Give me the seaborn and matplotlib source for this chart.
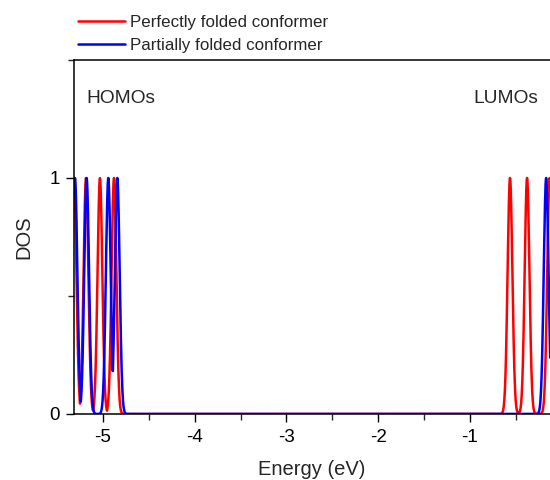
import numpy as np
import pandas as pd
import matplotlib
matplotlib.use("Agg")
import matplotlib.pyplot as plt
from matplotlib.ticker import MultipleLocator
import seaborn as sns

# peak centres (eV), each broadened to a unit-height gaussian
perfect_peaks = [-5.315, -5.185, -5.033, -4.88, -0.564, -0.378, -0.132]
partial_peaks = [-5.305, -5.178, -4.942, -4.844, -0.17]
sigma = 0.026
labels = ["Perfectly folded conformer", "Partially folded conformer"]
colors = ["#ff0000", "#0000ff"]


def broaden(energy, peaks):
    dos = np.zeros_like(energy)
    for p in peaks:
        dos = np.maximum(dos, np.exp(-((energy - p) ** 2) / (2 * sigma ** 2)))
    return dos


energy = np.arange(-5.33, -0.11, 0.002)
frames = []
for lab, peaks in zip(labels, [perfect_peaks, partial_peaks]):
    frames.append(pd.DataFrame({"energy": energy, "dos": broaden(energy, peaks), "conf": lab}))
df = pd.concat(frames, ignore_index=True)

sns.set_style("ticks")
plt.rcParams["font.family"] = ["Liberation Sans", "DejaVu Sans"]

fig = plt.figure(figsize=(5.5, 4.8), dpi=100)
ax = fig.add_axes([0.1345, 0.1375, 0.8655, 0.7375])

sns.lineplot(data=df, x="energy", y="dos", hue="conf", hue_order=labels,
             palette=dict(zip(labels, colors)), linewidth=1.8, sort=False,
             estimator=None, ax=ax)

ax.set_xlim(-5.316, -0.128)
ax.set_ylim(0, 1.5)
ax.set_xticks([-5, -4, -3, -2, -1])
ax.set_xticklabels(["-5", "-4", "-3", "-2", "-1"])
ax.xaxis.set_minor_locator(MultipleLocator(0.5))
ax.set_yticks([0, 1])
ax.yaxis.set_minor_locator(MultipleLocator(0.5))
ax.tick_params(which="major", length=6, width=1, labelsize=13.5, colors="black", pad=5)
ax.tick_params(axis="y", which="major", pad=4)
ax.tick_params(which="minor", length=4, width=1)
for s in ax.spines.values():
    s.set_linewidth(1.1)
    s.set_color("black")
ax.spines["right"].set_visible(False)

ax.set_xlabel("Energy (eV)", fontsize=14.5, labelpad=10)
ax.set_ylabel("DOS", fontsize=14.5, labelpad=12)

ax.text(0.027, 0.915, "HOMOs", transform=ax.transAxes, fontsize=13.8, va="top")
ax.text(0.975, 0.915, "LUMOs", transform=ax.transAxes, fontsize=13.8, va="top", ha="right")

handles, labs = ax.get_legend_handles_labels()
ax.get_legend().remove()
fig.legend(handles, labs, loc="upper left", bbox_to_anchor=(0.114, 1.0),
           frameon=False, fontsize=12.2, handlelength=2.8, handletextpad=0.3,
           labelspacing=0.45)

fig.savefig("out.png", dpi=100)
